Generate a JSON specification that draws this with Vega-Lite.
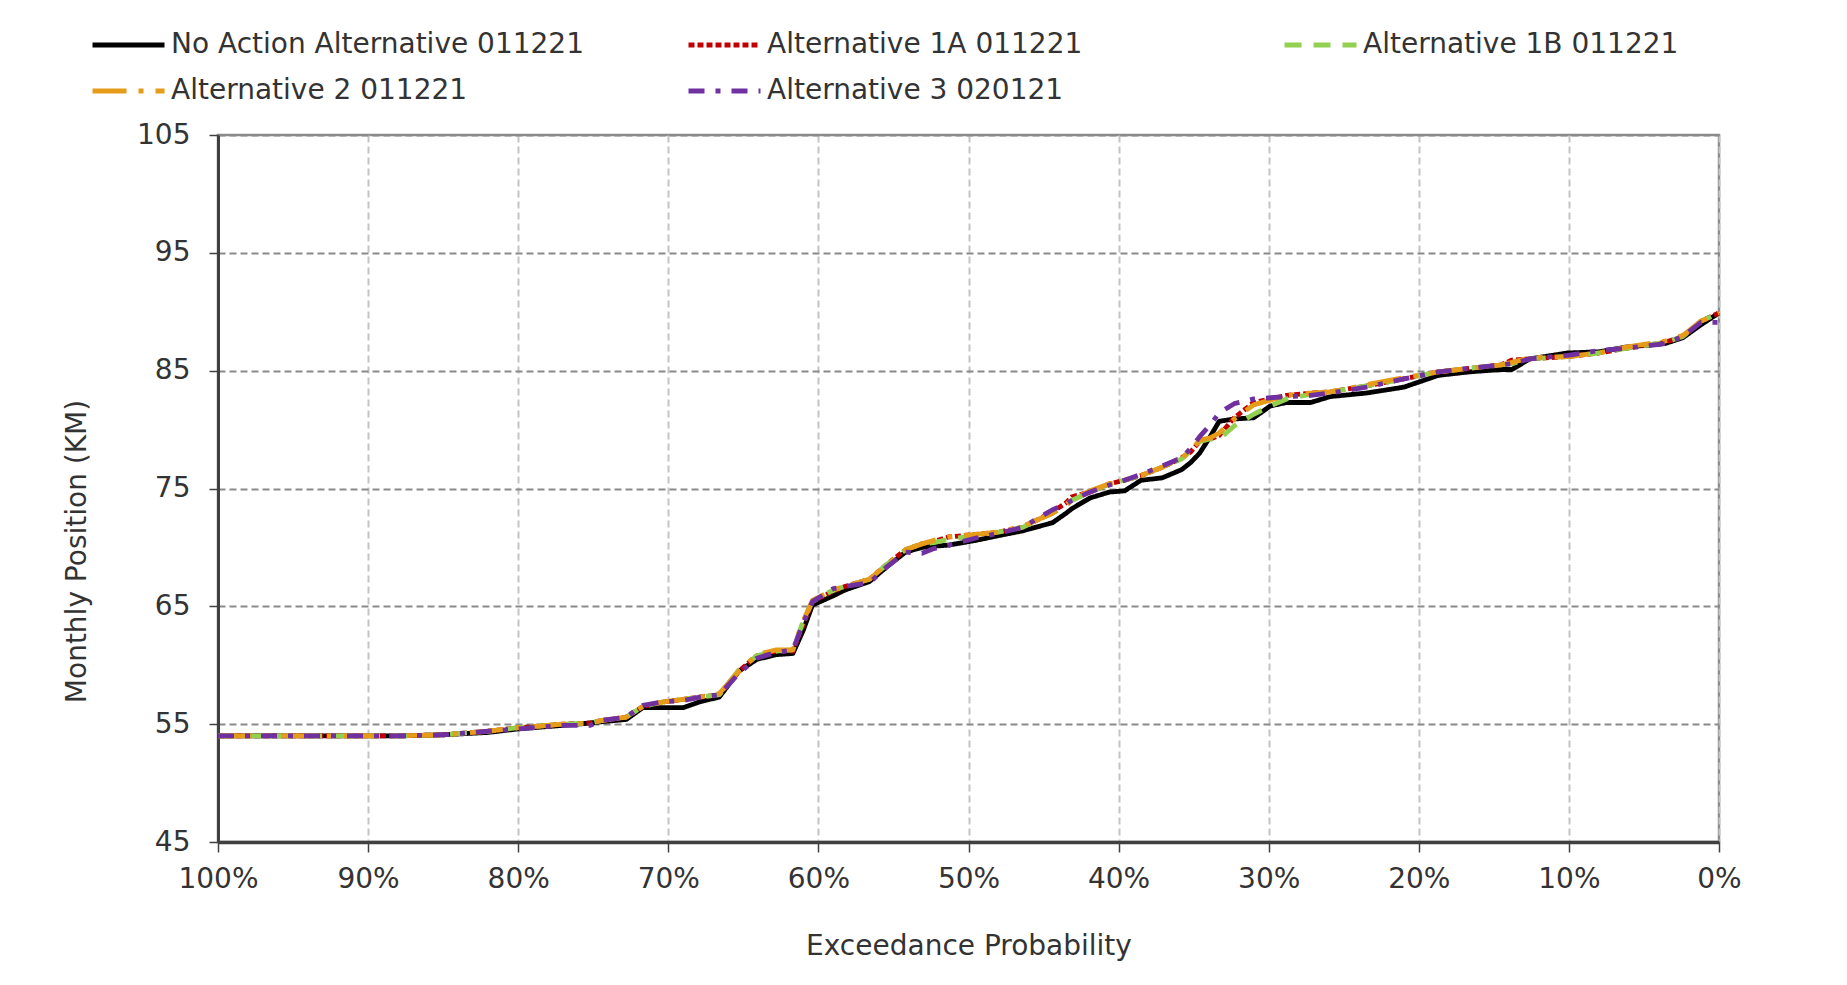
{
  "$schema": "https://vega.github.io/schema/vega-lite/v6.json",
  "autosize": "none",
  "width": 1501,
  "height": 707,
  "padding": {"left": 218, "top": 135, "right": 128, "bottom": 143},
  "background": "white",
  "data": {"values": [
    {"p":100,"No Action Alternative 011221":54.0,"Alternative 1A 011221":54.0,"Alternative 1B 011221":54.0,"Alternative 2 011221":54.0,"Alternative 3 020121":54.0},
    {"p":96,"No Action Alternative 011221":54.0,"Alternative 1A 011221":54.0,"Alternative 1B 011221":54.0,"Alternative 2 011221":54.0,"Alternative 3 020121":54.0},
    {"p":92,"No Action Alternative 011221":54.0,"Alternative 1A 011221":54.0,"Alternative 1B 011221":54.0,"Alternative 2 011221":54.0,"Alternative 3 020121":54.0},
    {"p":88,"No Action Alternative 011221":54.0,"Alternative 1A 011221":54.0,"Alternative 1B 011221":54.0,"Alternative 2 011221":54.0,"Alternative 3 020121":54.0},
    {"p":85,"No Action Alternative 011221":54.1,"Alternative 1A 011221":54.1,"Alternative 1B 011221":54.1,"Alternative 2 011221":54.1,"Alternative 3 020121":54.1},
    {"p":82,"No Action Alternative 011221":54.3,"Alternative 1A 011221":54.4,"Alternative 1B 011221":54.4,"Alternative 2 011221":54.4,"Alternative 3 020121":54.4},
    {"p":80,"No Action Alternative 011221":54.6,"Alternative 1A 011221":54.7,"Alternative 1B 011221":54.7,"Alternative 2 011221":54.7,"Alternative 3 020121":54.6},
    {"p":77,"No Action Alternative 011221":54.9,"Alternative 1A 011221":55.0,"Alternative 1B 011221":55.0,"Alternative 2 011221":55.0,"Alternative 3 020121":54.9},
    {"p":75.2,"No Action Alternative 011221":55.1,"Alternative 1A 011221":55.1,"Alternative 1B 011221":55.1,"Alternative 2 011221":55.1,"Alternative 3 020121":54.9},
    {"p":74.5,"No Action Alternative 011221":55.2,"Alternative 1A 011221":55.3,"Alternative 1B 011221":55.3,"Alternative 2 011221":55.3,"Alternative 3 020121":55.3},
    {"p":72.8,"No Action Alternative 011221":55.4,"Alternative 1A 011221":55.6,"Alternative 1B 011221":55.6,"Alternative 2 011221":55.6,"Alternative 3 020121":55.6},
    {"p":71.7,"No Action Alternative 011221":56.4,"Alternative 1A 011221":56.5,"Alternative 1B 011221":56.5,"Alternative 2 011221":56.5,"Alternative 3 020121":56.6},
    {"p":70.3,"No Action Alternative 011221":56.4,"Alternative 1A 011221":56.9,"Alternative 1B 011221":56.9,"Alternative 2 011221":56.9,"Alternative 3 020121":56.9},
    {"p":69.0,"No Action Alternative 011221":56.4,"Alternative 1A 011221":57.1,"Alternative 1B 011221":57.1,"Alternative 2 011221":57.1,"Alternative 3 020121":57.0},
    {"p":67.9,"No Action Alternative 011221":56.9,"Alternative 1A 011221":57.3,"Alternative 1B 011221":57.3,"Alternative 2 011221":57.3,"Alternative 3 020121":57.3},
    {"p":66.6,"No Action Alternative 011221":57.3,"Alternative 1A 011221":57.5,"Alternative 1B 011221":57.5,"Alternative 2 011221":57.6,"Alternative 3 020121":57.5},
    {"p":65.3,"No Action Alternative 011221":59.5,"Alternative 1A 011221":59.5,"Alternative 1B 011221":59.6,"Alternative 2 011221":59.5,"Alternative 3 020121":59.3},
    {"p":64.1,"No Action Alternative 011221":60.5,"Alternative 1A 011221":60.8,"Alternative 1B 011221":60.8,"Alternative 2 011221":60.9,"Alternative 3 020121":60.6},
    {"p":62.8,"No Action Alternative 011221":60.9,"Alternative 1A 011221":61.2,"Alternative 1B 011221":61.2,"Alternative 2 011221":61.3,"Alternative 3 020121":61.1},
    {"p":61.7,"No Action Alternative 011221":61.0,"Alternative 1A 011221":61.2,"Alternative 1B 011221":61.3,"Alternative 2 011221":61.3,"Alternative 3 020121":61.3},
    {"p":61.0,"No Action Alternative 011221":63.0,"Alternative 1A 011221":63.5,"Alternative 1B 011221":63.8,"Alternative 2 011221":63.8,"Alternative 3 020121":63.6},
    {"p":60.4,"No Action Alternative 011221":65.1,"Alternative 1A 011221":65.4,"Alternative 1B 011221":65.4,"Alternative 2 011221":65.5,"Alternative 3 020121":65.4},
    {"p":59.0,"No Action Alternative 011221":65.9,"Alternative 1A 011221":66.3,"Alternative 1B 011221":66.4,"Alternative 2 011221":66.4,"Alternative 3 020121":66.5},
    {"p":58.2,"No Action Alternative 011221":66.4,"Alternative 1A 011221":66.7,"Alternative 1B 011221":66.7,"Alternative 2 011221":66.7,"Alternative 3 020121":66.7},
    {"p":56.6,"No Action Alternative 011221":67.1,"Alternative 1A 011221":67.3,"Alternative 1B 011221":67.3,"Alternative 2 011221":67.3,"Alternative 3 020121":67.0},
    {"p":55.4,"No Action Alternative 011221":68.4,"Alternative 1A 011221":68.6,"Alternative 1B 011221":68.6,"Alternative 2 011221":68.6,"Alternative 3 020121":68.4},
    {"p":54.2,"No Action Alternative 011221":69.6,"Alternative 1A 011221":69.8,"Alternative 1B 011221":69.8,"Alternative 2 011221":69.8,"Alternative 3 020121":69.6},
    {"p":53.1,"No Action Alternative 011221":70.0,"Alternative 1A 011221":70.3,"Alternative 1B 011221":70.3,"Alternative 2 011221":70.3,"Alternative 3 020121":69.5},
    {"p":52.3,"No Action Alternative 011221":70.1,"Alternative 1A 011221":70.5,"Alternative 1B 011221":70.4,"Alternative 2 011221":70.6,"Alternative 3 020121":69.9},
    {"p":51.3,"No Action Alternative 011221":70.2,"Alternative 1A 011221":70.9,"Alternative 1B 011221":70.7,"Alternative 2 011221":70.9,"Alternative 3 020121":70.2},
    {"p":49.5,"No Action Alternative 011221":70.6,"Alternative 1A 011221":71.1,"Alternative 1B 011221":71.0,"Alternative 2 011221":71.1,"Alternative 3 020121":70.8},
    {"p":48.0,"No Action Alternative 011221":71.0,"Alternative 1A 011221":71.3,"Alternative 1B 011221":71.3,"Alternative 2 011221":71.3,"Alternative 3 020121":71.2},
    {"p":46.4,"No Action Alternative 011221":71.4,"Alternative 1A 011221":71.7,"Alternative 1B 011221":71.7,"Alternative 2 011221":71.8,"Alternative 3 020121":71.7},
    {"p":44.4,"No Action Alternative 011221":72.1,"Alternative 1A 011221":73.0,"Alternative 1B 011221":72.9,"Alternative 2 011221":72.9,"Alternative 3 020121":73.2},
    {"p":43.5,"No Action Alternative 011221":72.9,"Alternative 1A 011221":73.8,"Alternative 1B 011221":73.6,"Alternative 2 011221":73.6,"Alternative 3 020121":73.7},
    {"p":43.1,"No Action Alternative 011221":73.3,"Alternative 1A 011221":74.3,"Alternative 1B 011221":74.0,"Alternative 2 011221":74.1,"Alternative 3 020121":74.0},
    {"p":41.9,"No Action Alternative 011221":74.2,"Alternative 1A 011221":74.7,"Alternative 1B 011221":74.7,"Alternative 2 011221":74.8,"Alternative 3 020121":74.7},
    {"p":40.6,"No Action Alternative 011221":74.7,"Alternative 1A 011221":75.4,"Alternative 1B 011221":75.4,"Alternative 2 011221":75.4,"Alternative 3 020121":75.3},
    {"p":39.6,"No Action Alternative 011221":74.8,"Alternative 1A 011221":75.7,"Alternative 1B 011221":75.7,"Alternative 2 011221":75.7,"Alternative 3 020121":75.7},
    {"p":38.5,"No Action Alternative 011221":75.7,"Alternative 1A 011221":76.1,"Alternative 1B 011221":76.1,"Alternative 2 011221":76.1,"Alternative 3 020121":76.2},
    {"p":37.1,"No Action Alternative 011221":75.9,"Alternative 1A 011221":76.8,"Alternative 1B 011221":76.8,"Alternative 2 011221":76.8,"Alternative 3 020121":76.9},
    {"p":35.8,"No Action Alternative 011221":76.6,"Alternative 1A 011221":77.6,"Alternative 1B 011221":77.5,"Alternative 2 011221":77.6,"Alternative 3 020121":77.6},
    {"p":35.2,"No Action Alternative 011221":77.2,"Alternative 1A 011221":78.1,"Alternative 1B 011221":78.2,"Alternative 2 011221":78.2,"Alternative 3 020121":78.4},
    {"p":34.6,"No Action Alternative 011221":78.0,"Alternative 1A 011221":79.0,"Alternative 1B 011221":79.0,"Alternative 2 011221":79.1,"Alternative 3 020121":79.4},
    {"p":33.9,"No Action Alternative 011221":79.4,"Alternative 1A 011221":79.2,"Alternative 1B 011221":79.2,"Alternative 2 011221":79.3,"Alternative 3 020121":80.4},
    {"p":33.3,"No Action Alternative 011221":80.7,"Alternative 1A 011221":79.5,"Alternative 1B 011221":79.2,"Alternative 2 011221":79.7,"Alternative 3 020121":81.4},
    {"p":32.3,"No Action Alternative 011221":80.9,"Alternative 1A 011221":81.0,"Alternative 1B 011221":80.3,"Alternative 2 011221":80.9,"Alternative 3 020121":82.2},
    {"p":31.0,"No Action Alternative 011221":81.0,"Alternative 1A 011221":82.3,"Alternative 1B 011221":81.3,"Alternative 2 011221":82.1,"Alternative 3 020121":82.6},
    {"p":29.9,"No Action Alternative 011221":82.0,"Alternative 1A 011221":82.6,"Alternative 1B 011221":82.0,"Alternative 2 011221":82.5,"Alternative 3 020121":82.7},
    {"p":28.8,"No Action Alternative 011221":82.3,"Alternative 1A 011221":82.9,"Alternative 1B 011221":82.6,"Alternative 2 011221":82.9,"Alternative 3 020121":82.8},
    {"p":27.2,"No Action Alternative 011221":82.3,"Alternative 1A 011221":83.1,"Alternative 1B 011221":83.0,"Alternative 2 011221":83.1,"Alternative 3 020121":82.9},
    {"p":25.9,"No Action Alternative 011221":82.8,"Alternative 1A 011221":83.2,"Alternative 1B 011221":83.2,"Alternative 2 011221":83.2,"Alternative 3 020121":83.1},
    {"p":23.5,"No Action Alternative 011221":83.1,"Alternative 1A 011221":83.7,"Alternative 1B 011221":83.7,"Alternative 2 011221":83.8,"Alternative 3 020121":83.6},
    {"p":21.0,"No Action Alternative 011221":83.6,"Alternative 1A 011221":84.3,"Alternative 1B 011221":84.3,"Alternative 2 011221":84.4,"Alternative 3 020121":84.3},
    {"p":18.7,"No Action Alternative 011221":84.6,"Alternative 1A 011221":84.9,"Alternative 1B 011221":84.9,"Alternative 2 011221":84.9,"Alternative 3 020121":84.9},
    {"p":16.6,"No Action Alternative 011221":84.9,"Alternative 1A 011221":85.2,"Alternative 1B 011221":85.2,"Alternative 2 011221":85.2,"Alternative 3 020121":85.2},
    {"p":14.5,"No Action Alternative 011221":85.1,"Alternative 1A 011221":85.5,"Alternative 1B 011221":85.5,"Alternative 2 011221":85.5,"Alternative 3 020121":85.5},
    {"p":13.8,"No Action Alternative 011221":85.1,"Alternative 1A 011221":85.9,"Alternative 1B 011221":85.6,"Alternative 2 011221":85.7,"Alternative 3 020121":85.6},
    {"p":12.6,"No Action Alternative 011221":86.0,"Alternative 1A 011221":86.0,"Alternative 1B 011221":86.0,"Alternative 2 011221":86.1,"Alternative 3 020121":86.0},
    {"p":10.1,"No Action Alternative 011221":86.5,"Alternative 1A 011221":86.2,"Alternative 1B 011221":86.2,"Alternative 2 011221":86.2,"Alternative 3 020121":86.3},
    {"p":8.0,"No Action Alternative 011221":86.6,"Alternative 1A 011221":86.5,"Alternative 1B 011221":86.5,"Alternative 2 011221":86.5,"Alternative 3 020121":86.7},
    {"p":6.2,"No Action Alternative 011221":87.0,"Alternative 1A 011221":86.9,"Alternative 1B 011221":86.9,"Alternative 2 011221":87.0,"Alternative 3 020121":86.9},
    {"p":3.6,"No Action Alternative 011221":87.3,"Alternative 1A 011221":87.4,"Alternative 1B 011221":87.4,"Alternative 2 011221":87.5,"Alternative 3 020121":87.3},
    {"p":2.4,"No Action Alternative 011221":87.8,"Alternative 1A 011221":87.9,"Alternative 1B 011221":87.9,"Alternative 2 011221":88.0,"Alternative 3 020121":87.9},
    {"p":1.2,"No Action Alternative 011221":88.9,"Alternative 1A 011221":89.2,"Alternative 1B 011221":89.2,"Alternative 2 011221":89.2,"Alternative 3 020121":89.1},
    {"p":0,"No Action Alternative 011221":89.9,"Alternative 1A 011221":89.9,"Alternative 1B 011221":89.9,"Alternative 2 011221":89.9,"Alternative 3 020121":89.1}
  ]},
  "transform": [
    {"fold": ["No Action Alternative 011221","Alternative 1A 011221","Alternative 1B 011221","Alternative 2 011221","Alternative 3 020121"], "as": ["series","v"]}
  ],
  "mark": {"type": "line", "strokeWidth": 4.8, "strokeJoin": "round"},
  "encoding": {
    "x": {"field": "p", "type": "quantitative",
      "scale": {"domain": [100, 0], "nice": false, "zero": false},
      "axis": {"values": [0,10,20,30,40,50,60,70,80,90,100], "labelExpr": "datum.value + '%'", "title": "Exceedance Probability",
        "grid": true, "gridColor": "#c4c4c4", "gridDash": [7,4], "gridWidth": 2,
        "domainColor": "#404040", "domainWidth": 3.5, "tickColor": "#404040", "tickSize": 10, "tickWidth": 1.5,
        "labelPadding": 13, "titlePadding": 39, "labelFlush": false, "labelOverlap": false}},
    "y": {"field": "v", "type": "quantitative",
      "scale": {"domain": [45, 105], "nice": false, "zero": false},
      "axis": {"values": [45,55,65,75,85,95,105], "title": "Monthly Position (KM)",
        "grid": true, "gridColor": "#8a8a8a", "gridDash": [7,4], "gridWidth": 2,
        "domainColor": "#404040", "domainWidth": 3, "tickColor": "#404040", "tickSize": 9, "tickWidth": 1.5,
        "labelPadding": 19, "titlePadding": 45, "titleY": 416, "labelOverlap": false}},
    "color": {"field": "series", "type": "nominal",
      "scale": {"domain": ["No Action Alternative 011221","Alternative 1A 011221","Alternative 1B 011221","Alternative 2 011221","Alternative 3 020121"],
                "range": ["#000000","#C00000","#92D050","#E69B19","#7030A0"]},
      "legend": {"title": null, "orient": "none", "direction": "horizontal", "legendX": -128, "legendY": -108, "columns": 3, "columnPadding": 102, "rowPadding": 10, "clipHeight": 36,
        "gridAlign": "all", "symbolType": "stroke", "symbolSize": 5184, "symbolStrokeWidth": 5, "labelOffset": 4, "labelLimit": 700, "padding": 0}},
    "strokeDash": {"field": "series", "type": "nominal",
      "scale": {"domain": ["No Action Alternative 011221","Alternative 1A 011221","Alternative 1B 011221","Alternative 2 011221","Alternative 3 020121"],
                "range": [[1,0],[6,3],[17,12],[34,12,5,12],[16,11,5,11]]},
      "legend": {"title": null, "orient": "none", "direction": "horizontal", "legendX": -128, "legendY": -108, "columns": 3, "columnPadding": 102, "rowPadding": 10, "clipHeight": 36,
        "gridAlign": "all", "symbolType": "stroke", "symbolSize": 5184, "symbolStrokeWidth": 5, "labelOffset": 4, "labelLimit": 700, "padding": 0}}
  },
  "config": {
    "font": "DejaVu Sans",
    "view": {"stroke": "#8c8c8c", "strokeWidth": 2.5},
    "axis": {"labelFont": "DejaVu Sans", "labelFontSize": 28, "labelColor": "#333333", "titleFont": "DejaVu Sans", "titleFontSize": 28, "titleFontWeight": "normal", "titleColor": "#333333"},
    "legend": {"labelFont": "DejaVu Sans", "labelFontSize": 28, "labelColor": "#333333"}
  }
}
